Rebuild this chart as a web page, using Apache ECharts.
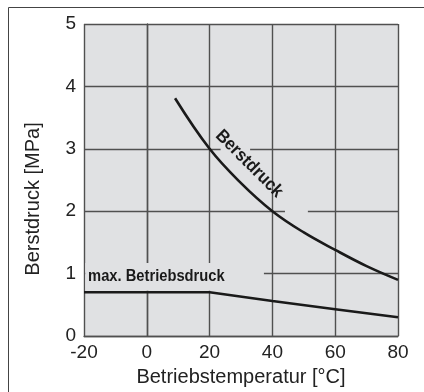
<!DOCTYPE html>
<html>
<head>
<meta charset="utf-8">
<script src="https://cdn.jsdelivr.net/npm/echarts@6/dist/echarts.min.js"></script>
<style>
  html, body { margin: 0; padding: 0; background: #ffffff; }
  #chart { width: 424px; height: 392px; }
</style>
</head>
<body>
<div id="chart"></div>
<script>
// ---- data ----
const tempBurst = [9, 20, 30, 40, 50, 60, 70, 80];          // °C
const burstPressure = [3.81, 3.0, 2.45, 2.0, 1.66, 1.38, 1.12, 0.9]; // MPa
const tempOperating = [-20, 20, 40, 60, 80];                // °C
const maxOperatingPressure = [0.7, 0.7, 0.56, 0.43, 0.3];   // MPa
const xAxisTitle = 'Betriebstemperatur [°C]';
const yAxisTitle = 'Berstdruck [MPa]';
const burstLabel = 'Berstdruck';
const operatingLabel = 'max. Betriebsdruck';

const FONT = "'Liberation Sans', Arial, sans-serif";
const BG = '#e0e1e3';
const GRID_COLOR = '#505050';
const INK = '#1a1a1a';

const chart = echarts.init(document.getElementById('chart'), null, { renderer: 'canvas' });

const option = {
  animation: false,
  backgroundColor: '#ffffff',
  grid: {
    left: 84, right: 26, top: 24, bottom: 54,
    show: true, backgroundColor: BG, borderWidth: 0
  },
  xAxis: {
    type: 'value', min: -20, max: 80, interval: 20,
    name: xAxisTitle, nameLocation: 'middle', nameGap: 31,
    nameTextStyle: { fontFamily: FONT, fontSize: 20, color: '#222' },
    axisLine: { show: true, lineStyle: { color: GRID_COLOR, width: 1.4 } },
    axisTick: { show: false },
    axisLabel: { fontFamily: FONT, fontSize: 19, color: '#222', margin: 7 },
    splitLine: { show: true, lineStyle: { color: GRID_COLOR, width: 1.4 } }
  },
  yAxis: {
    type: 'value', min: 0, max: 5, interval: 1,
    name: yAxisTitle, nameLocation: 'middle', nameGap: 41,
    nameTextStyle: { fontFamily: FONT, fontSize: 20, color: '#222', padding: [0, 38, 0, 0] },
    axisLine: { show: true, lineStyle: { color: GRID_COLOR, width: 1.4 } },
    axisTick: { show: false },
    axisLabel: { fontFamily: FONT, fontSize: 19, color: '#222', margin: 8, padding: [5, 0, 0, 0] },
    splitLine: { show: true, lineStyle: { color: GRID_COLOR, width: 1.4 } }
  },
  series: [
    {
      // masks gaps in the grid lines around the labels
      type: 'line', data: [], z: 1, silent: true,
      markArea: {
        silent: true,
        itemStyle: { color: BG, opacity: 1 },
        data: [
          [{ coord: [-19.6, 0.725] }, { coord: [37.3, 1.17] }],
          [{ coord: [44.0, 1.93] }, { coord: [51.3, 2.07] }],
          [{ coord: [23.5, 2.93] }, { coord: [32.9, 3.07] }]
        ]
      }
    },
    {
      name: burstLabel, type: 'line', z: 3,
      data: tempBurst.map((t, i) => [t, burstPressure[i]]),
      smooth: 0.4, showSymbol: false,
      lineStyle: { color: INK, width: 2.6 }
    },
    {
      name: operatingLabel, type: 'line', z: 3,
      data: tempOperating.map((t, i) => [t, maxOperatingPressure[i]]),
      smooth: false, showSymbol: false,
      lineStyle: { color: INK, width: 2.6 }
    }
  ]
};
chart.setOption(option);

const pBurst = chart.convertToPixel({ gridIndex: 0 }, [32.6, 2.76]);
const pOp = chart.convertToPixel({ gridIndex: 0 }, [-18.7, 0.96]);
chart.setOption({
  graphic: [
    {
      type: 'rect', silent: true, z: 100,
      shape: { x: 8.5, y: 7.5, width: 600, height: 600 },
      style: { fill: 'none', stroke: '#444', lineWidth: 1 }
    },
    {
      type: 'text', z: 100, x: pBurst[0], y: pBurst[1], rotation: -Math.PI / 4, scaleX: 0.92,
      style: { text: burstLabel, font: "bold 18px " + FONT, fill: INK, align: 'center', verticalAlign: 'middle' }
    },
    {
      type: 'text', z: 100, x: pOp[0], y: pOp[1], scaleX: 0.92,
      style: { text: operatingLabel, font: "bold 16px " + FONT, fill: INK, align: 'left', verticalAlign: 'middle' }
    }
  ]
});
</script>
</body>
</html>
